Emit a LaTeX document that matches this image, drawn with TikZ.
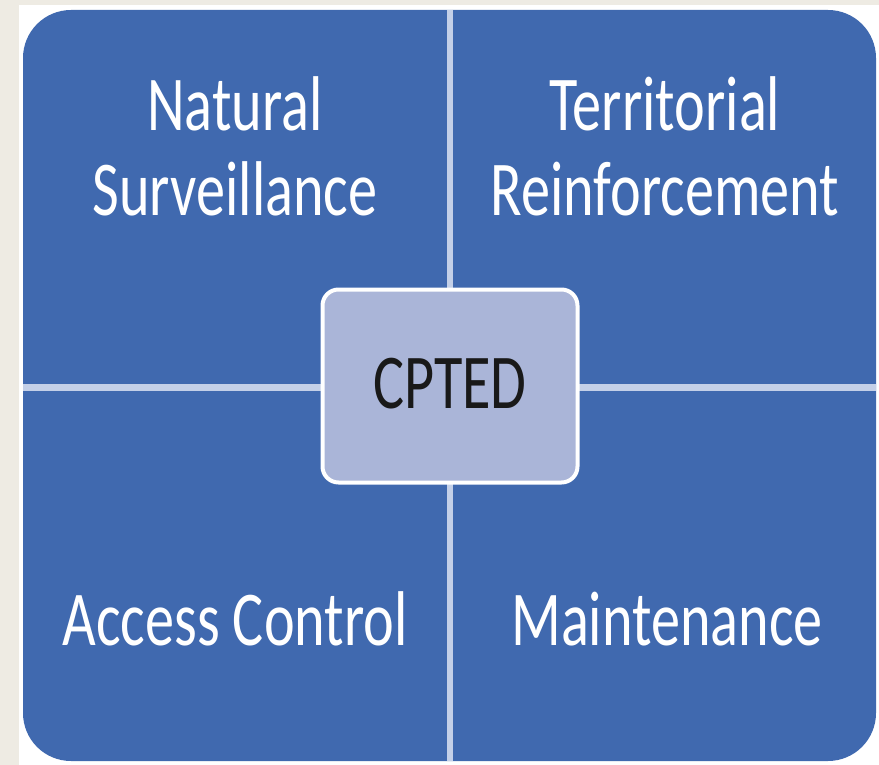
\documentclass[tikz,border=0pt]{standalone}
\usepackage{fontspec}
\setmainfont{Carlito}[FakeStretch=0.75]
\definecolor{cpblue}{RGB}{64,105,175}
\definecolor{cpcore}{RGB}{170,181,216}
\definecolor{cpgap}{RGB}{196,208,232}
\definecolor{cppaper}{RGB}{238,235,227}
\usetikzlibrary{positioning}

\begin{document}
\begin{tikzpicture}[x=1pt, y=-1pt,
    quadtext/.style={text=white, align=center, inner sep=0pt,
        font=\fontsize{77.6}{85}\selectfont},
    core/.style={fill=cpcore, draw=white, line width=4, rounded corners=16,
        minimum width=255, minimum height=193, text=black!90, text depth=6,
        font=\fontsize{77.6}{85}\selectfont}]
    \useasboundingbox (0,0) rectangle (879,765);
    % paper and card
    \fill[cppaper] (0,0) rectangle (879,765);
    \fill[white] (19,5) rectangle (879,765);
    \fill[cpblue, rounded corners=48] (23,10) rectangle (876,761);
    % gaps between the four fields
    \draw[cpgap, line width=6] (450,10) -- (450,761);
    \draw[cpgap, line width=7] (23,387) -- (876,387);
    % field titles (base = last line)
    \node[quadtext, anchor=base] (natural) at (235,215) {Natural\\Surveillance};
    \node[quadtext, anchor=base] (territorial) at (665,215) {Territorial\\Reinforcement};
    \node[quadtext, anchor=base] (access) at (235,645) {Access Control};
    \node[quadtext, anchor=base] (maint) at (667,645) {Maintenance};
    % the core in the middle
    \node[core] (cpted) at (450,386) {CPTED};
\end{tikzpicture}
\end{document}
